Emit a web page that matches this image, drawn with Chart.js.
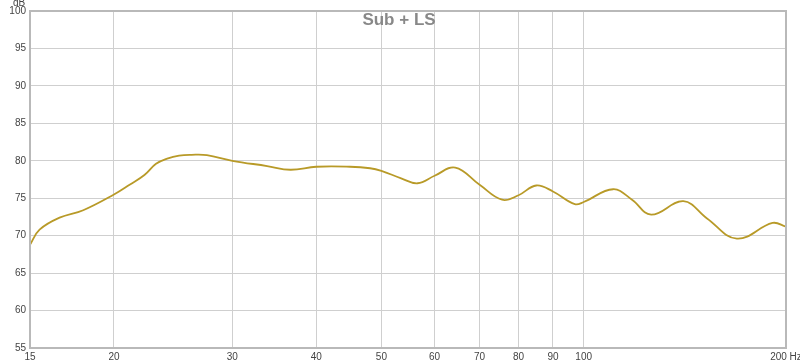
<!DOCTYPE html>
<html>
<head>
<meta charset="utf-8">
<script src="https://cdn.jsdelivr.net/npm/chart.js@4/dist/chart.umd.min.js"></script>
<style>
  html, body { margin: 0; padding: 0; background: #fff; }
  #wrap { width: 800px; height: 364px; }
</style>
</head>
<body>
<div id="wrap"><canvas id="spl"></canvas></div>
<script>
// frequency response
const freqs = [15, 15.5, 16.6, 18, 20, 21.1, 22.2, 23.1, 24.0, 25.0, 26.1, 27.5, 30, 33.8, 36.6, 40, 44.9, 48.1,
  50, 53.5, 56.6, 60, 64.4, 70, 75.6, 80, 85, 90, 97, 100, 110.6, 118, 126, 140.7, 152.6, 169, 191, 200];
const levels = [68.8, 70.8, 72.4, 73.4, 75.5, 76.8, 78.1, 79.6, 80.3, 80.7, 80.8, 80.75, 80.0, 79.3, 78.8, 79.2, 79.2, 79.0,
  78.65, 77.66, 77.0, 78.0, 79.1, 76.8, 74.8, 75.4, 76.7, 75.9, 74.2, 74.5, 76.2, 74.8, 72.8, 74.6, 72.3, 69.6, 71.7, 71.2];
const freqTicks = [15, 20, 30, 40, 50, 60, 70, 80, 90, 100, 200];
const chartTitle = "Sub + LS";

const frame = {
  id: "frame",
  afterDatasetsDraw(chart) {
    const { ctx, chartArea: a } = chart;
    ctx.save();
    ctx.strokeStyle = "#b9b9b9";
    ctx.lineWidth = 2;
    ctx.strokeRect(a.left, a.top, a.right - a.left, a.bottom - a.top);
    ctx.fillStyle = "#888";
    ctx.font = "bold 17px 'Liberation Sans', Arial, sans-serif";
    ctx.textAlign = "center";
    ctx.textBaseline = "middle";
    ctx.fillText(chartTitle, 399, 20);
    ctx.fillStyle = "#444";
    ctx.font = "10px 'Liberation Sans', Arial, sans-serif";
    ctx.fillText("dB", 19, 3);
    ctx.restore();
  }
};

new Chart(document.getElementById("spl").getContext("2d"), {
  type: "line",
  data: {
    datasets: [{
      data: freqs.map((f, i) => ({ x: f, y: levels[i] })),
      borderColor: "#b89a28",
      borderWidth: 1.8,
      pointRadius: 0,
      fill: false,
      tension: 0.4
    }]
  },
  options: {
    responsive: true,
    maintainAspectRatio: false,
    animation: false,
    layout: { padding: { top: 11, right: 14, left: 0, bottom: 0 } },
    plugins: { legend: { display: false }, tooltip: { enabled: false } },
    scales: {
      x: {
        type: "logarithmic",
        min: 15,
        max: 200,
        afterBuildTicks: axis => { axis.ticks = freqTicks.map(v => ({ value: v })); },
        afterFit: axis => { axis.height = 16; axis.paddingLeft = 0; axis.paddingRight = 0; },
        border: { display: false },
        grid: { color: "#cfcfcf", lineWidth: 1, drawTicks: false },
        ticks: {
          autoSkip: false,
          maxRotation: 0,
          padding: 3,
          color: "#444",
          font: { family: "'Liberation Sans', Arial, sans-serif", size: 10 },
          callback: v => (v === 200 ? "200 Hz" : String(v))
        }
      },
      y: {
        min: 55,
        max: 100,
        afterFit: axis => { axis.width = 30; },
        border: { display: false },
        grid: { color: "#cfcfcf", lineWidth: 1, drawTicks: false },
        ticks: {
          stepSize: 5,
          padding: 4,
          color: "#444",
          font: { family: "'Liberation Sans', Arial, sans-serif", size: 10 }
        }
      }
    }
  },
  plugins: [frame]
});
</script>
</body>
</html>
